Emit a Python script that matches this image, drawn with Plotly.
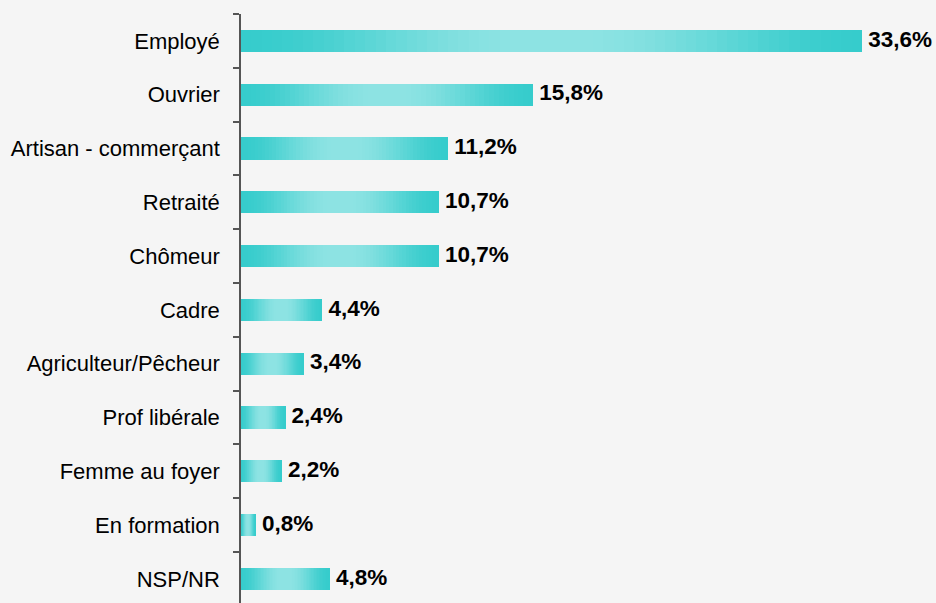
import plotly.graph_objects as go

categories = ["Employé", "Ouvrier", "Artisan - commerçant", "Retraité", "Chômeur",
              "Cadre", "Agriculteur/Pêcheur", "Prof libérale", "Femme au foyer",
              "En formation", "NSP/NR"]
values = [33.6, 15.8, 11.2, 10.7, 10.7, 4.4, 3.4, 2.4, 2.2, 0.8, 4.8]
labels = ["33,6%", "15,8%", "11,2%", "10,7%", "10,7%", "4,4%", "3,4%",
          "2,4%", "2,2%", "0,8%", "4,8%"]

EDGE = (54, 204, 204)
LIGHT = (141, 227, 227)
N = 60

fig = go.Figure()
for i in range(N):
    t = (i + 0.5) / N
    k = 1 - abs(t - 0.5) * 2
    k = min(1.0, k * 1.1)
    k = k * k * (3 - 2 * k)
    col = "rgb(%d,%d,%d)" % tuple(round(EDGE[j] + (LIGHT[j] - EDGE[j]) * k) for j in range(3))
    fig.add_trace(go.Bar(
        y=categories, x=[v / N for v in values], orientation="h",
        marker=dict(color=col, line=dict(width=0)), width=0.41,
        hoverinfo="skip", showlegend=False))

fig.add_trace(go.Scatter(
    y=categories, x=values, mode="text", text=["\u00a0" + l for l in labels],
    textposition="middle right",
    textfont=dict(family="Arial, Liberation Sans", size=22.5, color="black", weight="bold"),
    showlegend=False, hoverinfo="skip", cliponaxis=False))

fig.update_layout(
    width=936, height=603,
    barmode="stack",
    paper_bgcolor="#F5F5F5", plot_bgcolor="#F5F5F5",
    margin=dict(l=241, r=0, t=14, b=0),
    font=dict(family="Arial, Liberation Sans", size=22, color="black"),
    xaxis=dict(range=[0, 695 / 18.48], showgrid=False, zeroline=False,
               showticklabels=False, ticks="", showline=False),
    yaxis=dict(type="category", range=[10.448, -0.5], showgrid=False,
               showline=True, linecolor="#555555", linewidth=1.5,
               ticks="outside", tickson="boundaries", ticklen=6,
               tickcolor="#555555", tickwidth=1.5, ticklabelstandoff=15),
)

fig.write_html("out.html", config={"displayModeBar": False},
               post_script="document.body.style.margin='0';")
